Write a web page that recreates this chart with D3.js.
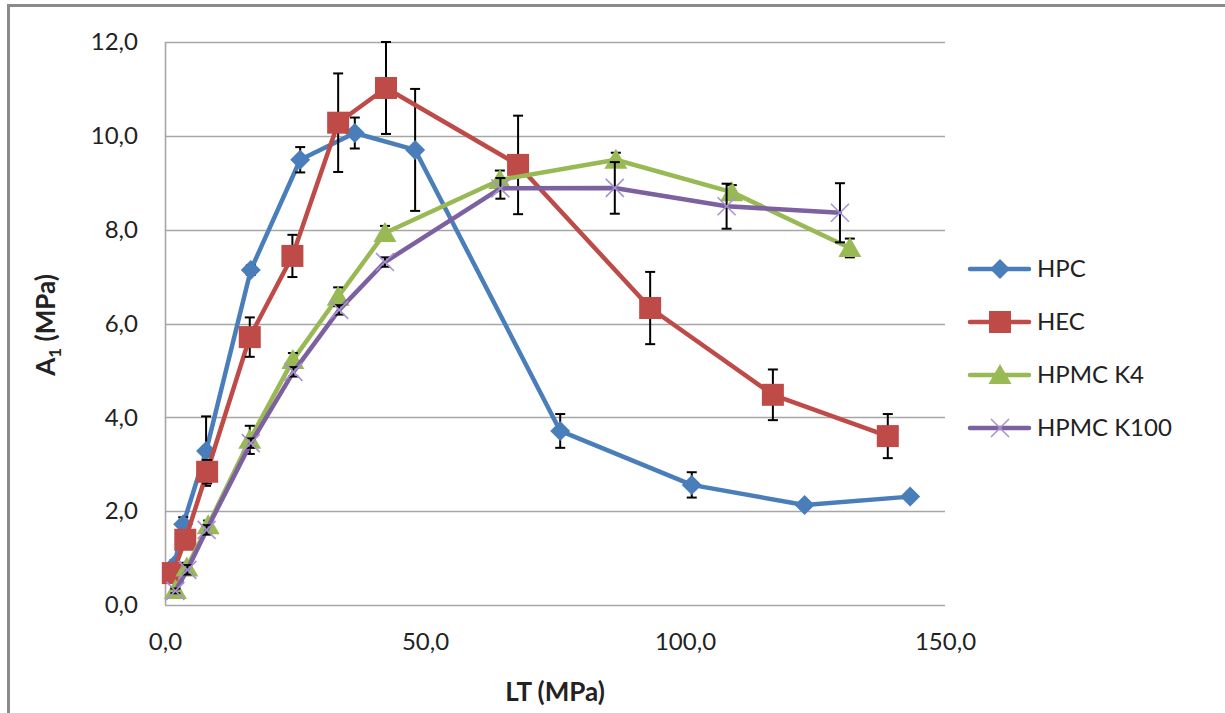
<!DOCTYPE html>
<html>
<head>
<meta charset="utf-8">
<script src="https://cdn.jsdelivr.net/npm/d3@7"></script>
<style>
  html, body { margin: 0; padding: 0; background: #fff; }
  svg { display: block; font-family: Lato, "Open Sans", sans-serif; }
</style>
</head>
<body>
<svg id="chart" width="1225" height="713"></svg>
<script>
// ---- data ----
const seriesNames = ["HPC", "HEC", "HPMC K4", "HPMC K100"];

const ltHPC  = [1.8, 3.5, 7.9, 16.5, 26.0, 36.5, 48.1, 76.0, 101.3, 123.0, 143.3];
const a1HPC  = [0.85, 1.72, 3.28, 7.14, 9.49, 10.06, 9.70, 3.71, 2.56, 2.13, 2.31];
const errHPC = [0.10, 0.15, 0.74, 0.10, 0.27, 0.33, 1.30, 0.36, 0.27, 0.05, 0.08];

const ltHEC  = [1.5, 3.9, 8.1, 16.3, 24.5, 33.3, 42.5, 67.9, 93.3, 116.9, 139.0];
const a1HEC  = [0.68, 1.39, 2.84, 5.71, 7.44, 10.28, 11.02, 9.38, 6.33, 4.48, 3.60];
const errHEC = [0.10, 0.15, 0.25, 0.42, 0.45, 1.05, 0.98, 1.05, 0.77, 0.54, 0.47];

const ltK4   = [2.0, 4.2, 8.3, 16.3, 24.6, 33.3, 42.3, 64.4, 86.7, 109.0, 131.7];
const a1K4   = [0.32, 0.80, 1.70, 3.52, 5.22, 6.57, 7.93, 9.06, 9.49, 8.80, 7.61];
const errK4  = [0.05, 0.10, 0.10, 0.30, 0.15, 0.20, 0.15, 0.20, 0.15, 0.15, 0.20];

const ltK100  = [2.0, 4.3, 8.0, 16.5, 24.7, 33.5, 42.3, 64.5, 86.5, 108.0, 129.8];
const a1K100  = [0.30, 0.75, 1.60, 3.45, 4.97, 6.29, 7.31, 8.88, 8.89, 8.50, 8.36];
const errK100 = [0.05, 0.10, 0.10, 0.10, 0.10, 0.10, 0.10, 0.22, 0.55, 0.48, 0.63];

const xTicks = [0, 50, 100, 150];
const yTicks = [0, 2, 4, 6, 8, 10, 12];
const xTitle = "LT (MPa)";

// ---- styling ----
const colors = ["#4A7EBB", "#BE4B48", "#98B954", "#7D60A0"];
const markers = ["diamond", "square", "triangle", "x"];

const svg = d3.select("#chart");
const W = 1225, H = 713;
const plot = { left: 165, right: 945, top: 42, bottom: 605 };

const x = d3.scaleLinear().domain([0, 150]).range([plot.left, plot.right]);
const y = d3.scaleLinear().domain([0, 12]).range([plot.bottom, plot.top]);

const fmt = v => d3.format(".1f")(v).replace(".", ",");

// outer chart border (left & top visible)
svg.append("path")
  .attr("d", `M8.5,${H} L8.5,5.5 L${W},5.5`)
  .attr("fill", "none").attr("stroke", "#8a8a8a").attr("stroke-width", 3);

// gridlines
svg.append("g").selectAll("line").data(yTicks).join("line")
  .attr("x1", plot.left).attr("x2", plot.right)
  .attr("y1", d => Math.round(y(d)) + 0.5).attr("y2", d => Math.round(y(d)) + 0.5)
  .attr("stroke", "#a6a6a6").attr("stroke-width", 1.6);

// y axis line
svg.append("line")
  .attr("x1", plot.left + 0.5).attr("x2", plot.left + 0.5)
  .attr("y1", plot.top).attr("y2", plot.bottom)
  .attr("stroke", "#a6a6a6").attr("stroke-width", 1.6);

// axes labels via d3 axes
const yAxis = d3.axisLeft(y).tickValues(yTicks).tickFormat(fmt).tickSize(0).tickPadding(27);
const gy = svg.append("g").attr("transform", `translate(${plot.left},0)`).call(yAxis);
gy.select(".domain").remove();
gy.selectAll("text").attr("font-size", 24).attr("fill", "#222").attr("font-family", "Lato, sans-serif");

const xAxis = d3.axisBottom(x).tickValues(xTicks).tickFormat(fmt).tickSize(0).tickPadding(28);
const gx = svg.append("g").attr("transform", `translate(0,${plot.bottom})`).call(xAxis);
gx.select(".domain").remove();
gx.selectAll("text").attr("font-size", 24).attr("fill", "#222").attr("font-family", "Lato, sans-serif");

// axis titles
svg.append("text")
  .attr("x", 555).attr("y", 701)
  .attr("text-anchor", "middle").attr("font-size", 26).attr("font-weight", "bold").attr("fill", "#222")
  .text(xTitle);

const yt = svg.append("text")
  .attr("transform", "translate(55,325) rotate(-90)")
  .attr("text-anchor", "middle").attr("font-size", 26).attr("font-weight", "bold").attr("fill", "#222");
yt.append("tspan").text("A");
yt.append("tspan").attr("font-size", 17).attr("dy", 6).text("1");
yt.append("tspan").attr("dy", -6).text(" (MPa)");

// marker drawing helper
function drawMarker(g, type, color) {
  if (type === "diamond") {
    g.append("path").attr("d", "M0,-10 L10,0 L0,10 L-10,0 Z").attr("fill", color);
  } else if (type === "square") {
    g.append("rect").attr("x", -11).attr("y", -11).attr("width", 22).attr("height", 22).attr("fill", color);
  } else if (type === "triangle") {
    g.append("path").attr("d", "M0,-11 L11.5,9 L-11.5,9 Z").attr("fill", color);
  } else if (type === "x") {
    g.append("path").attr("d", "M-9,-9 L9,9 M-9,9 L9,-9")
      .attr("stroke", "#A893CF").attr("stroke-width", 1.6).attr("fill", "none");
  }
}

const allSeries = [
  { lt: ltHPC, a1: a1HPC, err: errHPC },
  { lt: ltHEC, a1: a1HEC, err: errHEC },
  { lt: ltK4, a1: a1K4, err: errK4 },
  { lt: ltK100, a1: a1K100, err: errK100 }
].map((s, i) => ({
  name: seriesNames[i], color: colors[i], marker: markers[i],
  pts: s.lt.map((v, j) => ({ x: v, y: s.a1[j], e: s.err[j] }))
}));

const line = d3.line().x(d => x(d.x)).y(d => y(d.y));
const cap = 5;

allSeries.forEach(s => {
  const g = svg.append("g");
  g.append("path").attr("d", line(s.pts))
    .attr("fill", "none").attr("stroke", s.color).attr("stroke-width", 4.5)
    .attr("stroke-linejoin", "round").attr("stroke-linecap", "round");

  const eb = g.append("g").selectAll("g").data(s.pts.filter(d => d.e > 0)).join("g");
  eb.append("line")
    .attr("x1", d => x(d.x)).attr("x2", d => x(d.x))
    .attr("y1", d => y(d.y + d.e)).attr("y2", d => y(d.y - d.e))
    .attr("stroke", "#000").attr("stroke-width", 2);
  eb.append("line")
    .attr("x1", d => x(d.x) - cap).attr("x2", d => x(d.x) + cap)
    .attr("y1", d => y(d.y + d.e)).attr("y2", d => y(d.y + d.e))
    .attr("stroke", "#000").attr("stroke-width", 2);
  eb.append("line")
    .attr("x1", d => x(d.x) - cap).attr("x2", d => x(d.x) + cap)
    .attr("y1", d => y(d.y - d.e)).attr("y2", d => y(d.y - d.e))
    .attr("stroke", "#000").attr("stroke-width", 2);

  g.append("g").selectAll("g").data(s.pts).join("g")
    .attr("transform", d => `translate(${x(d.x)},${y(d.y)})`)
    .each(function() { drawMarker(d3.select(this), s.marker, s.color); });
});

// legend
const legend = svg.append("g");
const legY = [269, 322, 375, 428];
allSeries.forEach((s, i) => {
  const lg = legend.append("g").attr("transform", `translate(0,${legY[i]})`);
  lg.append("line").attr("x1", 970).attr("x2", 1029).attr("y1", 0).attr("y2", 0)
    .attr("stroke", s.color).attr("stroke-width", 4.5).attr("stroke-linecap", "round");
  const m = lg.append("g").attr("transform", "translate(1000,0)");
  drawMarker(m, s.marker, s.color);
  lg.append("text").attr("x", 1037).attr("y", 0).attr("dy", "0.35em")
    .attr("font-size", 24).attr("fill", "#222").text(s.name);
});
</script>
</body>
</html>
